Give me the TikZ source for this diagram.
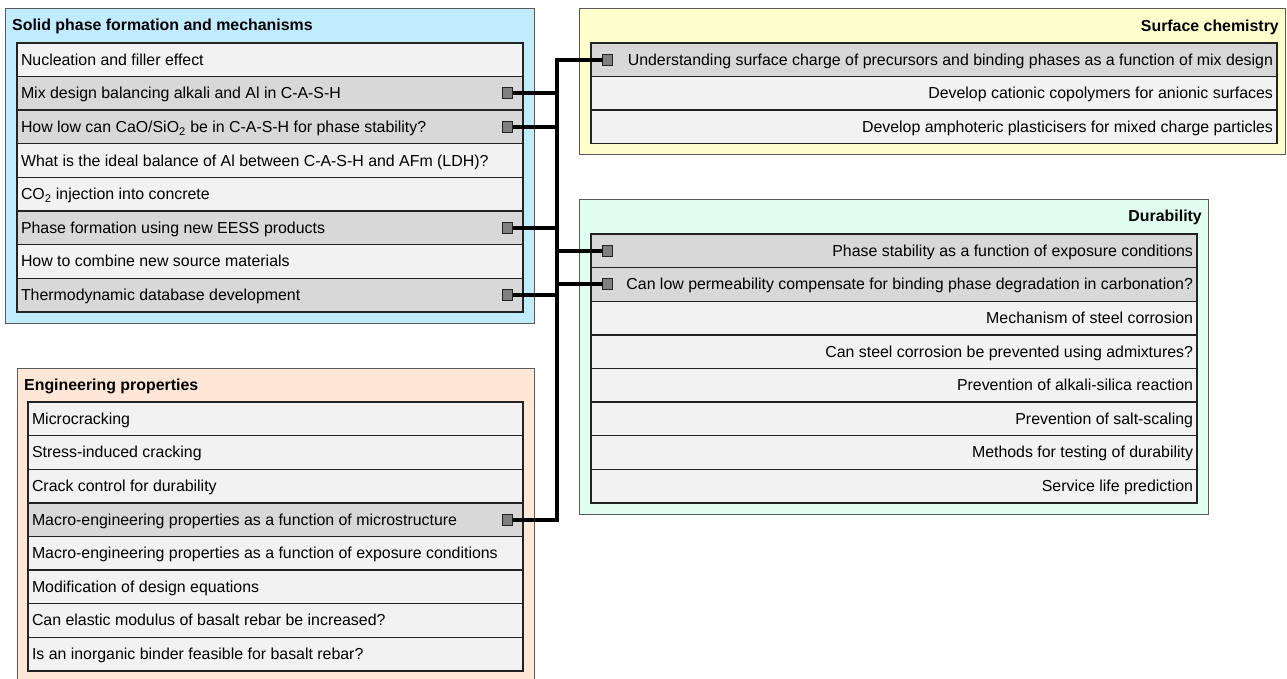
\documentclass[tikz,border=0pt]{standalone}
\usepackage{fontspec}
\setmainfont{Liberation Sans}
\definecolor{bluefill}{RGB}{193,236,255}
\definecolor{yellowfill}{RGB}{255,255,206}
\definecolor{greenfill}{RGB}{224,255,240}
\definecolor{orangefill}{RGB}{254,231,214}
\definecolor{rowlight}{RGB}{242,242,242}
\definecolor{rowdark}{RGB}{216,216,216}
\definecolor{rowline}{RGB}{35,35,35}
\definecolor{panelline}{RGB}{90,90,90}
\definecolor{sqfill}{RGB}{128,128,128}
\definecolor{sqline}{RGB}{35,35,35}
\begin{document}
\begin{tikzpicture}[x=1pt,y=-1pt,
  every node/.style={font=\fontsize{15.9}{18}\selectfont},
  panel/.style={draw=panelline, line width=1pt},
  rowbase/.style={draw=rowline, line width=1.4pt, minimum height=33.6pt,
    inner xsep=4pt, inner ysep=0pt, outer sep=0pt, anchor=north west,
    fill=rowlight, text height=12pt, text depth=1pt},
  lrow/.style={rowbase, text width=#1, align=flush left},
  rrow/.style={rowbase, text width=#1, align=flush right},
  hl/.style={fill=rowdark},
  sqbox/.style={draw=sqline, fill=sqfill, line width=1pt, minimum width=10pt,
    minimum height=11pt, inner sep=0pt, outer sep=0pt},
  link/.style={line width=4pt, black, line join=miter},
  ptitle/.style={font=\bfseries\fontsize{15.9}{18}\selectfont, inner sep=0pt}
]
\useasboundingbox (0,0) rectangle (1287,679);

% panels
\path[panel, fill=bluefill]   (5,9)   rectangle (534,323);
\path[panel, fill=orangefill] (17,368) rectangle (534,684);
\path[panel, fill=yellowfill] (579,9) rectangle (1285,155);
\path[panel, fill=greenfill]  (579,200) rectangle (1208,514);

% titles
\node[ptitle, anchor=base west] (tS) at (12,31) {Solid phase formation and mechanisms};
\node[ptitle, anchor=base west] (tE) at (24,390.6) {Engineering properties};
\node[ptitle, anchor=base east] (tC) at (1279,31.3) {Surface chemistry};
\node[ptitle, anchor=base east] (tD) at (1202,221.6) {Durability};

% Solid phase formation rows
\node[lrow=498] (s1) at (17,43) {Nucleation and filler effect};
\node[lrow=498,hl] (s2) at (s1.south west) {Mix design balancing alkali and Al in C-A-S-H};
\node[lrow=498,hl] (s3) at (s2.south west) {How low can CaO/SiO\textsubscript{2} be in C-A-S-H for phase stability?};
\node[lrow=498] (s4) at (s3.south west) {What is the ideal balance of Al between C-A-S-H and AFm (LDH)?};
\node[lrow=498] (s5) at (s4.south west) {CO\textsubscript{2} injection into concrete};
\node[lrow=498,hl] (s6) at (s5.south west) {Phase formation using new EESS products};
\node[lrow=498] (s7) at (s6.south west) {How to combine new source materials};
\node[lrow=498,hl] (s8) at (s7.south west) {Thermodynamic database development};

% Engineering properties rows
\node[lrow=487] (e1) at (28,402) {Microcracking};
\node[lrow=487] (e2) at (e1.south west) {Stress-induced cracking};
\node[lrow=487] (e3) at (e2.south west) {Crack control for durability};
\node[lrow=487,hl] (e4) at (e3.south west) {Macro-engineering properties as a function of microstructure};
\node[lrow=487] (e5) at (e4.south west) {Macro-engineering properties as a function of exposure conditions};
\node[lrow=487] (e6) at (e5.south west) {Modification of design equations};
\node[lrow=487] (e7) at (e6.south west) {Can elastic modulus of basalt rebar be increased?};
\node[lrow=487] (e8) at (e7.south west) {Is an inorganic binder feasible for basalt rebar?};

% Surface chemistry rows
\node[rrow=678,hl] (c1) at (591,43) {Understanding surface charge of precursors and binding phases as a function of mix design};
\node[rrow=678] (c2) at (c1.south west) {Develop cationic copolymers for anionic surfaces};
\node[rrow=678] (c3) at (c2.south west) {Develop amphoteric plasticisers for mixed charge particles};

% Durability rows
\node[rrow=598,hl] (d1) at (591,234) {Phase stability as a function of exposure conditions};
\node[rrow=598,hl] (d2) at (d1.south west) {Can low permeability compensate for binding phase degradation in carbonation?};
\node[rrow=598] (d3) at (d2.south west) {Mechanism of steel corrosion};
\node[rrow=598] (d4) at (d3.south west) {Can steel corrosion be prevented using admixtures?};
\node[rrow=598] (d5) at (d4.south west) {Prevention of alkali-silica reaction};
\node[rrow=598] (d6) at (d5.south west) {Prevention of salt-scaling};
\node[rrow=598] (d7) at (d6.south west) {Methods for testing of durability};
\node[rrow=598] (d8) at (d7.south west) {Service life prediction};

% connector squares
\node[sqbox] (qs2) at ([xshift=-15.5pt]s2.east) {};
\node[sqbox] (qs3) at ([xshift=-15.5pt]s3.east) {};
\node[sqbox] (qs6) at ([xshift=-15.5pt]s6.east) {};
\node[sqbox] (qs8) at ([xshift=-15.5pt]s8.east) {};
\node[sqbox] (qe4) at ([xshift=-15.5pt]e4.east) {};
\node[sqbox] (qc1) at ([xshift=16.5pt]c1.west) {};
\node[sqbox] (qd1) at ([xshift=16.5pt]d1.west) {};
\node[sqbox] (qd2) at ([xshift=16.5pt]d2.west) {};

% bus
\coordinate (bus) at (557,0);
\draw[link] (qc1.west) -- (qc1.west -| bus) -- (qe4.east -| bus) -- (qe4.east);
\draw[link] (qs2.east) -- (qs2.east -| bus);
\draw[link] (qs3.east) -- (qs3.east -| bus);
\draw[link] (qs6.east) -- (qs6.east -| bus);
\draw[link] (qs8.east) -- (qs8.east -| bus);
\draw[link] (bus |- qd1.west) -- (qd1.west);
\draw[link] (bus |- qd2.west) -- (qd2.west);
\end{tikzpicture}
\end{document}
